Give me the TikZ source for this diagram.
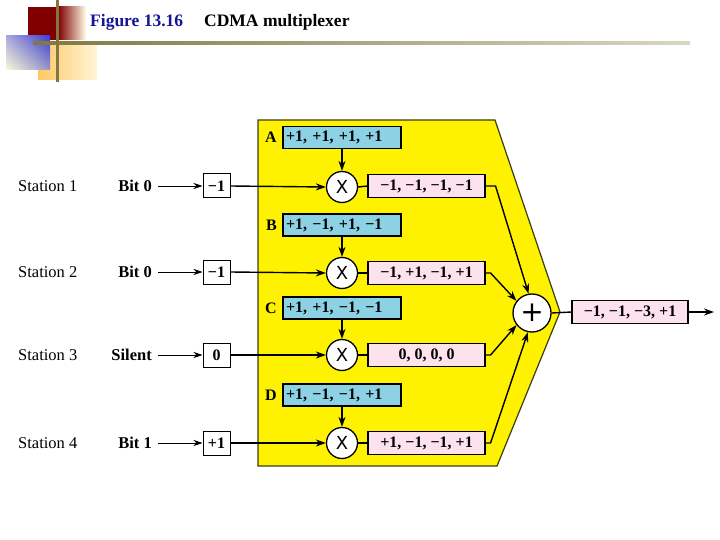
\documentclass[tikz,border=0pt]{standalone}
\usepackage{fontspec}
\setmainfont{Liberation Serif}
\setsansfont{DejaVu Sans}
\usetikzlibrary{arrows.meta,shadings}
\definecolor{codeblue}{RGB}{140,210,228}
\definecolor{prodpink}{RGB}{252,226,236}
\definecolor{olivel}{RGB}{128,120,64}
\definecolor{darkred}{RGB}{128,0,0}
\definecolor{titleblue}{RGB}{20,20,150}
\definecolor{orA}{RGB}{255,200,100}
\definecolor{orB}{RGB}{255,245,215}
\definecolor{blA}{RGB}{60,60,210}
\definecolor{blB}{RGB}{250,250,215}
\definecolor{blC}{RGB}{170,170,220}
\definecolor{blD}{RGB}{150,150,200}
\definecolor{cream}{RGB}{255,255,230}
\definecolor{edge}{RGB}{60,60,20}
\begin{document}
\begin{tikzpicture}[x=1pt,y=-1pt,
  every node/.style={inner sep=0pt},
  codebox/.style={draw, line width=1.1pt, fill=codeblue, minimum width=118pt, minimum height=22pt, font=\fontsize{16}{17}\selectfont\bfseries, text width=112pt, align=left},
  prodbox/.style={draw, line width=1.1pt, fill=prodpink, minimum width=117pt, minimum height=23pt, font=\fontsize{16}{17}\selectfont\bfseries},
  multc/.style={draw, line width=1.3pt, circle, fill=white, minimum size=31pt, font=\sffamily\fontsize{18}{18}\selectfont},
  bitbox/.style={draw, line width=1pt, fill=white, minimum width=27pt, minimum height=24pt, font=\fontsize{16}{17}\selectfont\bfseries},
  stlabel/.style={anchor=west, font=\fontsize{16.5}{18}\selectfont},
  bitlabel/.style={anchor=east, font=\fontsize{16.5}{18}\selectfont\bfseries},
  letter/.style={anchor=east, font=\fontsize{16}{17}\selectfont\bfseries},
  conn/.style={line width=1.4pt},
  arr/.style={line width=1.4pt, -{Stealth[length=10pt,width=7pt]}},
  thinarr/.style={line width=0.8pt, -{Stealth[length=9pt,width=6pt]}}
]
\useasboundingbox (0,0) rectangle (720,540);
% decorations
\fill[darkred] (28,7) rectangle (58,40);
\shade[left color=darkred, right color=cream] (58,7) rectangle (86,40);
\shade[left color=orA, right color=orB] (38,42) rectangle (97,80);
\shade[upper right=blA, lower left=blB, upper left=blC, lower right=blD] (6,36) rectangle (50,70);
\shade[left color=olivel, right color=olivel!30] (33,41.5) rectangle (690,44.5);
\fill[olivel] (55.5,0) rectangle (58.5,82);
\node[anchor=west, font=\fontsize{17.5}{19}\selectfont\bfseries, text=titleblue] (fig) at (90,22) {Figure 13.16};
\node[anchor=west, font=\fontsize{17.5}{19}\selectfont\bfseries] (ttl) at (204,22) {CDMA multiplexer};
% yellow region
\draw[fill=yellow, line width=1.2pt, draw=edge] (258,120) -- (495,120) -- (560,312) -- (497,466) -- (258,466) -- cycle;
% code boxes
\node[codebox] (A) at (342,137.5) {+1, +1, +1, +1};
\node[codebox] (B) at (342,225) {+1, −1, +1, −1};
\node[codebox] (C) at (342,308) {+1, +1, −1, −1};
\node[codebox] (D) at (342,395) {+1, −1, −1, +1};
\node[letter] (lA) at (277,137.5) {A};
\node[letter] (lB) at (277,225) {B};
\node[letter] (lC) at (277,308) {C};
\node[letter] (lD) at (277,395) {D};
% multipliers
\node[multc] (m1) at (342,187) {X};
\node[multc] (m2) at (342,273) {X};
\node[multc] (m3) at (342,355) {X};
\node[multc] (m4) at (342,443) {X};
% products
\node[prodbox] (p1) at (426.5,186) {−1, −1, −1, −1};
\node[prodbox] (p2) at (426.5,273) {−1, +1, −1, +1};
\node[prodbox] (p3) at (426.5,355) {0, 0, 0, 0};
\node[prodbox] (p4) at (426.5,443) {+1, −1, −1, +1};
% adder
\node[draw, line width=1.3pt, circle, fill=white, minimum size=38pt, font=\sffamily\fontsize{28}{28}\selectfont] (plus) at (532,313) {+};
\node[prodbox, minimum width=116pt] (out) at (630,312) {−1, −1, −3, +1};
\coordinate (end) at (714,312);
% stations
\node[stlabel] (s1) at (18,186) {Station 1};
\node[stlabel] (s2) at (18,272) {Station 2};
\node[stlabel] (s3) at (18,355) {Station 3};
\node[stlabel] (s4) at (18,443) {Station 4};
\node[bitlabel] (b1) at (152,186) {Bit 0};
\node[bitlabel] (b2) at (152,272) {Bit 0};
\node[bitlabel] (b3) at (152,355) {Silent};
\node[bitlabel] (b4) at (152,443) {Bit 1};
\node[bitbox] (v1) at (216.5,186) {−1};
\node[bitbox] (v2) at (216.5,272) {−1};
\node[bitbox] (v3) at (216.5,355) {0};
\node[bitbox] (v4) at (216.5,443) {+1};
% connectors
\foreach \i in {1,2,3,4}{
  \draw[thinarr] ([xshift=6pt]b\i.east) -- (v\i.west);
}
\draw[arr] (v1.east) -- (m1.west);
\draw[arr] (v2.east) -- (m2.west);
\draw[arr] (v3.east) -- (m3.west);
\draw[arr] (v4.east) -- (m4.west);
\draw[arr] (A.south) -- (m1.north);
\draw[arr] (B.south) -- (m2.north);
\draw[arr] (C.south) -- (m3.north);
\draw[arr] (D.south) -- (m4.north);
\draw[conn] (m1.east) -- (p1.west);
\draw[conn] (m2.east) -- (p2.west);
\draw[conn] (m3.east) -- (p3.west);
\draw[conn] (m4.east) -- (p4.west);
\draw[arr] (p1.east) -- ++(10,0) -- (plus.100);
\draw[arr] (p2.east) -- ++(5,0) -- (plus.142);
\draw[arr] (p3.east) -- ++(5,0) -- (plus.218);
\draw[arr] (p4.east) -- ++(5,0) -- (plus.258);
\draw[conn] (plus.east) -- (out.west);
\draw[arr] (out.east) -- (end);
\end{tikzpicture}
\end{document}
